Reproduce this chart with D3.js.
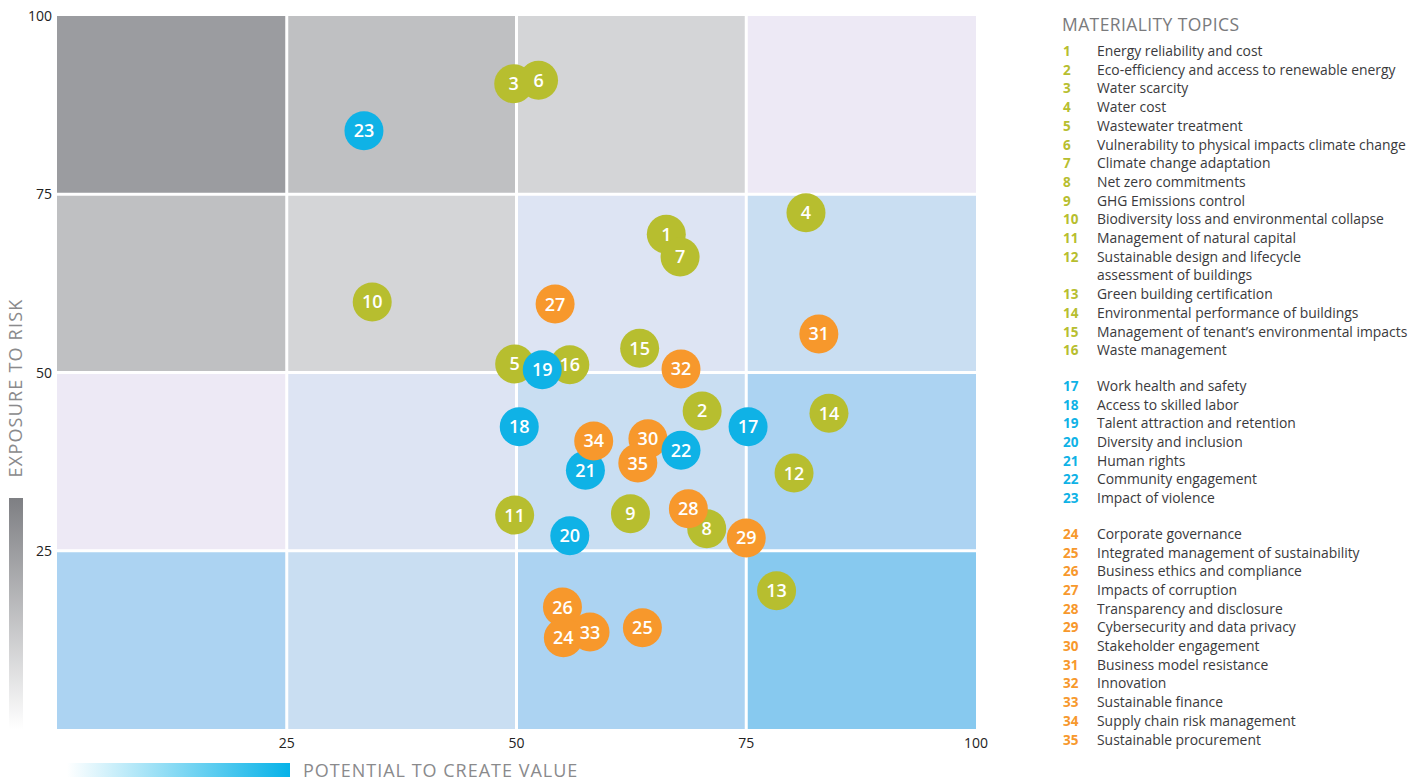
<!DOCTYPE html>
<html>
<head>
<meta charset="utf-8">
<script src="https://cdn.jsdelivr.net/npm/d3@7"></script>
<style>
  body { margin: 0; background: #fff; }
  text { font-family: "Open Sans", "Noto Sans", sans-serif; }
</style>
</head>
<body>
<div id="chart"></div>
<script>
// topic number, potential to create value (x), exposure to risk (y)
var topicIds = [1,2,3,4,5,6,7,8,9,10,11,12,13,14,15,16,17,18,19,20,21,22,23,24,25,26,27,28,29,30,31,32,33,34,35];
var valueX = [66.3,70.2,49.7,81.5,49.8,52.4,67.8,70.7,62.4,34.3,49.8,80.2,78.3,84.0,63.4,55.8,75.2,50.3,52.8,55.8,57.5,67.9,33.4,55.1,63.7,55.0,54.2,68.7,75.0,64.3,82.9,67.9,58.0,58.4,63.2];
var riskY  = [69.4,44.6,90.5,72.4,51.2,91.0,66.2,28.1,30.2,59.9,30.0,35.9,19.4,44.3,53.4,51.1,42.4,42.4,50.4,27.1,36.3,39.1,83.9,12.8,14.2,17.1,59.6,30.9,26.8,40.7,55.4,50.5,13.6,40.4,37.3];
var groups = ["env","env","env","env","env","env","env","env","env","env","env","env","env","env","env","env",
              "soc","soc","soc","soc","soc","soc","soc",
              "gov","gov","gov","gov","gov","gov","gov","gov","gov","gov","gov","gov"];
var topicNames = [
  "Energy reliability and cost",
  "Eco-efficiency and access to renewable energy",
  "Water scarcity",
  "Water cost",
  "Wastewater treatment",
  "Vulnerability to physical impacts climate change",
  "Climate change adaptation",
  "Net zero commitments",
  "GHG Emissions control",
  "Biodiversity loss and environmental collapse",
  "Management of natural capital",
  "Sustainable design and lifecycle|assessment of buildings",
  "Green building certification",
  "Environmental performance of buildings",
  "Management of tenant\u2019s environmental impacts",
  "Waste management",
  "Work health and safety",
  "Access to skilled labor",
  "Talent attraction and retention",
  "Diversity and inclusion",
  "Human rights",
  "Community engagement",
  "Impact of violence",
  "Corporate governance",
  "Integrated management of sustainability",
  "Business ethics and compliance",
  "Impacts of corruption",
  "Transparency and disclosure",
  "Cybersecurity and data privacy",
  "Stakeholder engagement",
  "Business model resistance",
  "Innovation",
  "Sustainable finance",
  "Supply chain risk management",
  "Sustainable procurement"
];
// background quadrant shades, rows from top (risk 75-100) to bottom, cols left to right
var cellColors = [
  ["#9b9ca0","#bfc0c2","#d4d5d7","#ede9f5"],
  ["#bfc0c2","#d4d5d7","#dde4f3","#c9def2"],
  ["#ede9f5","#dde4f3","#c9def2","#acd3f2"],
  ["#acd3f2","#c9def2","#acd3f2","#87c9ef"]
];
var ticks = [25,50,75,100];
var groupColor = {env:"#b7be2f", soc:"#0fb2e6", gov:"#f7982c"};

var W = 1425, H = 781;
var svg = d3.select("#chart").append("svg").attr("width", W).attr("height", H);

var x = d3.scaleLinear().domain([0,100]).range([57,976]);
var y = d3.scaleLinear().domain([0,100]).range([729,16]);

var points = topicIds.map(function(id,i){
  return {id:id, x:valueX[i], y:riskY[i], g:groups[i]};
});

// cells
var bands = [75,50,25,0];
var cells = [];
bands.forEach(function(b,r){
  [0,25,50,75].forEach(function(a,c){
    cells.push({x0:a, y0:b, color:cellColors[r][c]});
  });
});
var gap = 1.5;
svg.append("g").selectAll("rect").data(cells).enter().append("rect")
  .attr("x", function(d){ return x(d.x0) + (d.x0 > 0 ? gap : 0); })
  .attr("y", function(d){ return y(d.y0+25) + (d.y0 < 75 ? gap : 0); })
  .attr("width", function(d){ return x(d.x0+25) - x(d.x0) - (d.x0 > 0 ? gap : 0) - (d.x0 < 75 ? gap : 0); })
  .attr("height", function(d){ return y(d.y0) - y(d.y0+25) - (d.y0 < 75 ? gap : 0) - (d.y0 > 0 ? gap : 0); })
  .attr("fill", function(d){ return d.color; });

// tick labels
svg.append("g").selectAll("text").data(ticks).enter().append("text")
  .attr("x", 52).attr("y", function(d){ return y(d) + 5; })
  .attr("text-anchor","end").attr("font-size",14).attr("fill","#222")
  .text(function(d){ return d; });
svg.append("g").selectAll("text").data(ticks).enter().append("text")
  .attr("x", function(d){ return x(d); }).attr("y", 748)
  .attr("text-anchor","middle").attr("font-size",14).attr("fill","#222")
  .text(function(d){ return d; });

// gradients
var defs = svg.append("defs");
var gv = defs.append("linearGradient").attr("id","gv").attr("x1",0).attr("y1",0).attr("x2",0).attr("y2",1);
gv.append("stop").attr("offset","0%").attr("stop-color","#7e7f83");
gv.append("stop").attr("offset","100%").attr("stop-color","#ffffff");
var gh = defs.append("linearGradient").attr("id","gh").attr("x1",0).attr("y1",0).attr("x2",1).attr("y2",0);
gh.append("stop").attr("offset","0%").attr("stop-color","#ffffff");
gh.append("stop").attr("offset","100%").attr("stop-color","#06b2e8");

svg.append("rect").attr("x",9).attr("y",498).attr("width",14).attr("height",231).attr("fill","url(#gv)");
svg.append("rect").attr("x",67).attr("y",763).attr("width",223).attr("height",14).attr("fill","url(#gh)");

svg.append("text").attr("transform","translate(22,388) rotate(-90)")
  .attr("text-anchor","middle").attr("font-size",18).attr("letter-spacing",1.2).attr("fill","#8a8a8c")
  .text("EXPOSURE TO RISK");
svg.append("text").attr("x",303).attr("y",777)
  .attr("font-size",18).attr("letter-spacing",1).attr("fill","#8a8a8c")
  .text("POTENTIAL TO CREATE VALUE");

// bubbles; blues over greens, oranges over blues, a few stacked by hand
var order = [1,2,3,6,4,5,7,8,9,10,11,12,13,14,15,16,17,18,19,20,21,23,25,26,27,28,29,30,31,32,33,34,35,24,22];
var sorted = points.slice().sort(function(a,b){ return order.indexOf(a.id) - order.indexOf(b.id); });
var plot = svg.append("g");
plot.selectAll("circle").data(sorted).enter().append("circle")
  .attr("cx", function(d){ return x(d.x); })
  .attr("cy", function(d){ return y(d.y); })
  .attr("r",19.5).attr("fill", function(d){ return groupColor[d.g]; });
plot.selectAll("text").data(sorted).enter().append("text")
  .attr("x", function(d){ return x(d.x); })
  .attr("y", function(d){ return y(d.y); })
  .attr("text-anchor","middle").attr("dy","0.36em")
  .attr("font-size",18).attr("font-weight",600).attr("fill","#fff")
  .text(function(d){ return d.id; });

// legend
var lg = svg.append("g");
lg.append("text").attr("x",1062).attr("y",31).attr("font-size",17.5).attr("letter-spacing",0.4).attr("fill","#7a7a7c")
  .text("MATERIALITY TOPICS");
var lineH = 18.7;
var yy = 56;
var prevG = "env";
topicIds.forEach(function(id,i){
  if (groups[i] !== prevG) { yy += 17; prevG = groups[i]; }
  lg.append("text").attr("x",1063).attr("y",yy).attr("font-size",13.5).attr("font-weight",700)
    .attr("fill", groupColor[groups[i]]).text(id);
  var parts = topicNames[i].split("|");
  parts.forEach(function(p,k){
    lg.append("text").attr("x",1097).attr("y",yy + k*lineH).attr("font-size",13.9)
      .attr("fill","#3a3a3c").text(p);
  });
  yy += lineH * parts.length;
});
</script>
</body>
</html>
